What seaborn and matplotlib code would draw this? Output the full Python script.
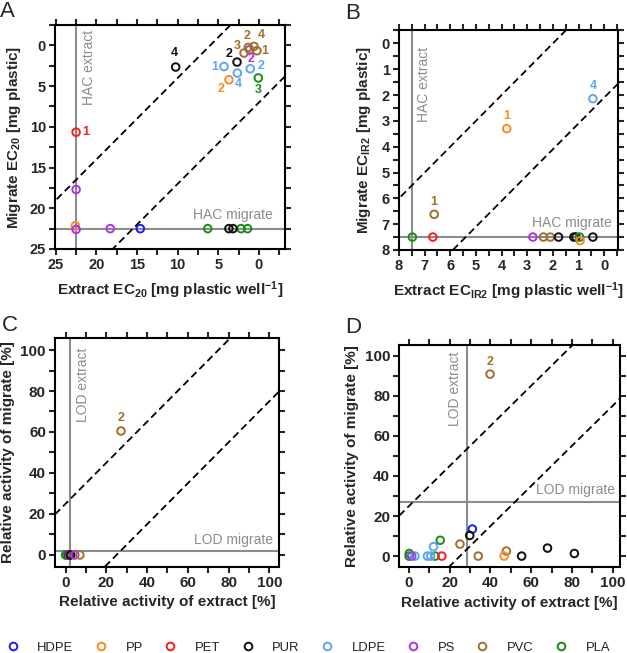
import pandas as pd
import matplotlib.pyplot as plt
import seaborn as sns
from matplotlib.lines import Line2D
from matplotlib.ticker import MultipleLocator

materials = ["HDPE", "PP", "PET", "PUR", "LDPE", "PS", "PVC", "PLA"]
colors = ["#1a1aff", "#ff8a1f", "#ff1a1a", "#111111", "#5aa8f2", "#b030ee", "#a0702d", "#1a8c1a"]

# panel A: EC20
a_mat = ["PET", "PS", "PP", "PS", "PS", "HDPE", "PLA", "PLA", "PLA", "PUR", "PUR",
         "PUR", "PUR", "LDPE", "LDPE", "LDPE", "PP", "PLA",
         "PS", "PVC", "PVC", "PVC", "PVC"]
a_ext = [22.5, 22.5, 22.6, 22.5, 18.3, 14.6, 6.3, 2.2, 1.4, 3.7, 3.2,
         10.25, 2.7, 4.3, 2.66, 1.07, 3.7, 0.08,
         1.15, 1.84, 1.31, 0.61, 0.25]
a_mig = [10.66, 17.7, 22.15, 22.6, 22.5, 22.5, 22.5, 22.5, 22.5, 22.5, 22.5,
         2.66, 2.05, 2.6, 3.4, 2.87, 4.22, 4.0,
         0.53, 0.94, 0.25, 0.12, 0.66]
a_lab = ["1", "", "", "", "", "", "", "", "", "", "",
         "4", "2", "1", "4", "2", "2", "3",
         "2", "3", "2", "4", "1"]

# panel B: EC IR2
b_mat = ["LDPE", "PP", "PVC", "PLA", "PET", "PS", "PVC", "PVC", "PUR", "PUR", "PUR", "PUR", "PLA", "PP"]
b_ext = [0.44, 3.8, 6.63, 7.48, 6.68, 2.78, 2.37, 2.1, 1.78, 1.18, 1.1, 0.44, 0.96, 0.94]
b_mig = [2.14, 3.3, 6.62, 7.5, 7.5, 7.5, 7.5, 7.5, 7.5, 7.5, 7.5, 7.5, 7.5, 7.64]
b_lab = ["4", "1", "1", "", "", "", "", "", "", "", "", "", "", ""]

# panel C: relative activity
c_mat = ["PLA", "PLA", "HDPE", "PET", "PUR", "PS", "PVC", "PVC"]
c_ext = [0.0, 0.5, 1.5, 2.0, 2.5, 4.5, 7.0, 27.2]
c_mig = [0.0, 0.0, 0.0, 0.0, 0.0, 0.0, 0.0, 60.5]
c_lab = ["", "", "", "", "", "", "", "2"]

# panel D: relative activity
d_mat = ["PVC", "HDPE", "PUR", "PVC", "PVC", "PVC", "PP", "PUR", "PUR", "PUR",
         "PLA", "PLA", "PLA", "PLA", "LDPE", "LDPE", "LDPE", "LDPE", "PET", "PS"]
d_ext = [39.8, 31.1, 29.8, 25.0, 34.0, 47.8, 46.7, 55.3, 68.0, 81.2,
         15.3, 12.8, 0.1, 0.0, 12.0, 9.0, 10.6, 2.9, 16.1, 1.3]
d_mig = [90.8, 13.5, 10.3, 6.0, 0.0, 2.5, 0.0, 0.0, 4.0, 1.3,
         7.9, 0.0, 1.3, 0.0, 4.7, 0.0, 0.0, 0.0, 0.0, 0.0]
d_lab = ["2", "", "", "", "", "", "", "", "", "",
         "", "", "", "", "", "", "", "", "", ""]

# offsets of number labels (points)
a_off = {0: (7, 0), 11: (-1, 10), 12: (-6, 6), 13: (-7, 0), 14: (1, -8), 15: (8, 2),
         16: (-5.5, -7), 17: (0, -8.5), 18: (1, -7), 19: (-5, 5), 20: (-1, 8.5),
         21: (5, 8), 22: (5.5, -0.5)}

sns.set_style("ticks")
plt.rcParams["font.family"] = ["Liberation Sans", "DejaVu Sans"]
plt.rcParams["mathtext.fontset"] = "custom"
plt.rcParams["mathtext.bf"] = "Liberation Sans:bold"
plt.rcParams["mathtext.rm"] = "Liberation Sans:bold"
plt.rcParams["mathtext.default"] = "bf"

pal = dict(zip(materials, colors))
gray = "#8c8c8c"

fig = plt.figure(figsize=(6.27, 6.53), dpi=100)
axA = fig.add_axes([0.0877, 0.6187, 0.3668, 0.343])
axB = fig.add_axes([0.6364, 0.6172, 0.3497, 0.3369])
axC = fig.add_axes([0.0877, 0.1322, 0.3578, 0.3497])
axD = fig.add_axes([0.6368, 0.1312, 0.352, 0.3404])


def panel(ax, mat, ext, mig, lab, offs=None, tick_fs=10.5):
    df = pd.DataFrame({"material": mat, "extract": ext, "migrate": mig, "label": lab})
    sns.scatterplot(data=df, x="extract", y="migrate", hue="material", palette=pal,
                    hue_order=materials, ax=ax, legend=False, s=30, linewidth=1.4, zorder=5)
    for coll in ax.collections:
        fc = coll.get_facecolors()
        coll.set_edgecolors(fc)
        coll.set_facecolors("none")
    for i, row in df.iterrows():
        if row["label"]:
            off = offs[i] if offs else (0, 9)
            ax.annotate(row["label"], (row["extract"], row["migrate"]), xytext=off,
                        textcoords="offset points", ha="center", va="center",
                        color=pal[row["material"]], fontsize=9, fontweight="bold", zorder=6)
    for s in ax.spines.values():
        s.set_visible(True)
        s.set_linewidth(1.5)
        s.set_color("black")
    ax.tick_params(which="both", direction="out", top=True, right=True, width=1.5,
                   length=4.5, labelsize=tick_fs, pad=2)


panel(axA, a_mat, a_ext, a_mig, a_lab, a_off)
panel(axB, b_mat, b_ext, b_mig, b_lab)
panel(axC, c_mat, c_ext, c_mig, c_lab, tick_fs=11)
panel(axD, d_mat, d_ext, d_mig, d_lab, tick_fs=11)

# reference lines
hac_a, hac_b = 22.5, 7.5
lod_c, lod_d = (2.0, 2.0), (28.5, 27.0)
diag_a, diag_b, diag_cd = [-6.0, 7.0], [-2.0, 2.1], [25.0, -25.0]

for ax, (vx, hy), offs in [(axA, (hac_a, hac_a), diag_a), (axB, (hac_b, hac_b), diag_b),
                           (axC, lod_c, diag_cd), (axD, lod_d, diag_cd)]:
    ax.axvline(vx, color=gray, lw=1.5, zorder=1)
    ax.axhline(hy, color=gray, lw=1.5, zorder=1)
    for o in offs:
        ax.axline((0, o), slope=1, color="black", lw=1.3, ls=(0, (4, 2.3)), zorder=2)

axA.set_xlim(25.1, -3.2)
axA.set_ylim(25, -2.5)
for a in (axA.xaxis, axA.yaxis):
    a.set_major_locator(MultipleLocator(5))
    a.set_minor_locator(MultipleLocator(2.5))

axB.set_xlim(8, -0.55)
axB.set_ylim(8, -0.52)
for a in (axB.xaxis, axB.yaxis):
    a.set_major_locator(MultipleLocator(1))
    a.set_minor_locator(MultipleLocator(0.5))

axC.set_xlim(-5.2, 104.9)
axC.set_ylim(-5.7, 105.7)
axD.set_xlim(-4.8, 103.6)
axD.set_ylim(-5.6, 105.3)
for ax in (axC, axD):
    for a in (ax.xaxis, ax.yaxis):
        a.set_major_locator(MultipleLocator(20))
        a.set_minor_locator(MultipleLocator(10))
for ax in (axA, axB, axC, axD):
    for t in ax.get_xticklabels() + ax.get_yticklabels():
        t.set_fontweight("bold")

lab_kw = dict(fontsize=11, fontweight="bold")
axA.set_xlabel("Extract EC$_{20}$ [mg plastic well$^{-1}$]", labelpad=5, **lab_kw)
axA.set_ylabel("Migrate EC$_{20}$ [mg plastic]", labelpad=5, **lab_kw)
axB.set_xlabel("Extract EC$_{IR2}$ [mg plastic well$^{-1}$]", labelpad=5, **lab_kw)
axB.set_ylabel("Migrate EC$_{IR2}$ [mg plastic]", labelpad=6, **lab_kw)
for ax in (axC, axD):
    ax.set_xlabel("Relative activity of extract [%]", labelpad=4, **lab_kw)
    ax.set_ylabel("Relative activity of migrate [%]", labelpad=4, **lab_kw)

txt_kw = dict(color=gray, fontsize=10, textcoords="offset points")
axA.annotate("HAC extract", (hac_a, 0.978), xycoords=("data", "axes fraction"), xytext=(4, 0),
             rotation=90, ha="left", va="top", **txt_kw)
axA.annotate("HAC migrate", (0.948, hac_a), xycoords=("axes fraction", "data"), xytext=(0, 5),
             ha="right", va="bottom", **txt_kw)
axB.annotate("HAC extract", (hac_b, 0.923), xycoords=("data", "axes fraction"), xytext=(3.5, 0),
             rotation=90, ha="left", va="top", **txt_kw)
axB.annotate("HAC migrate", (0.970, hac_b), xycoords=("axes fraction", "data"), xytext=(0, 5),
             ha="right", va="bottom", **txt_kw)
axC.annotate("LOD extract", (lod_c[0], 0.958), xycoords=("data", "axes fraction"), xytext=(4.5, 0),
             rotation=90, ha="left", va="top", **txt_kw)
axC.annotate("LOD migrate", (0.974, lod_c[1]), xycoords=("axes fraction", "data"), xytext=(0, 3),
             ha="right", va="bottom", **txt_kw)
axD.annotate("LOD extract", (lod_d[0], 0.97), xycoords=("data", "axes fraction"), xytext=(-3.5, 0),
             rotation=90, ha="right", va="top", **txt_kw)
axD.annotate("LOD migrate", (0.977, lod_d[1]), xycoords=("axes fraction", "data"), xytext=(0, 3.5),
             ha="right", va="bottom", **txt_kw)

for letter, x, y in [("A", 0.0, 0.998), ("B", 0.550, 0.996), ("C", 0.003, 0.517), ("D", 0.550, 0.514)]:
    fig.text(x, y, letter, fontsize=16, va="top", ha="left")

handles = [Line2D([], [], marker="o", ls="none", mfc="none", mec=c, mew=1.4, ms=5.5)
           for c in colors]
fig.legend(handles, materials, loc="center left", bbox_to_anchor=(0.01, 0.0081), ncol=8,
           frameon=False, fontsize=9.4, handlelength=1, handletextpad=1.38, columnspacing=1.6,
           borderpad=0, borderaxespad=0, labelcolor="#222222")

fig.savefig("out.png", dpi=100)
